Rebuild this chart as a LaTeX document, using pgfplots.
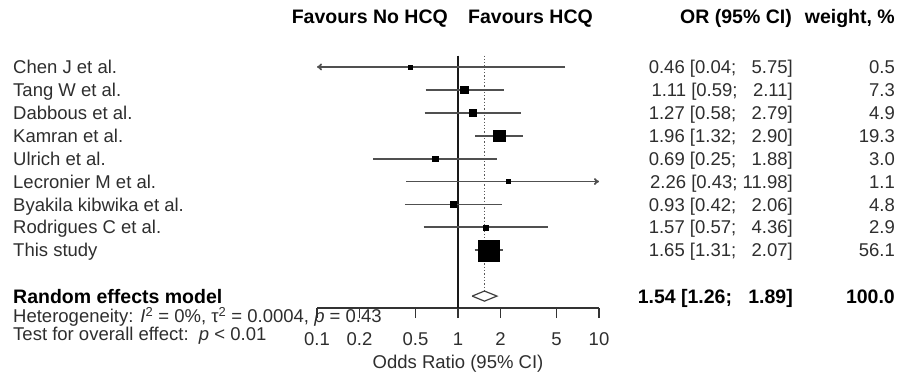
\documentclass[border=0pt]{standalone}
\usepackage{fontspec}
\setmainfont{Liberation Sans}
\usepackage{pgfplots}
\pgfplotsset{compat=1.18}
\usetikzlibrary{arrows.meta}
\newcommand\fs{\fontsize{18.5}{22}\selectfont}
\newcommand\fb{\fontsize{19.5}{22}\selectfont\bfseries}
\definecolor{txt}{HTML}{2E2E2E}
\definecolor{cicol}{HTML}{505050}
\begin{document}
\begin{tikzpicture}
\useasboundingbox (0,0) rectangle (901pt,376pt);
\begin{axis}[
  at={(317pt,68pt)}, anchor=south west,
  scale only axis, width=282pt, height=252.5pt,
  xmode=log, log basis x=10, xmin=0.1, xmax=10,
  ymin=-11.52, ymax=-0.5,
  axis x line=bottom, axis y line=none, ytick=\empty,
  axis line style={-, line width=1.3pt, black!80},
  xtick={0.1,0.2,0.5,1,2,5,10},
  xticklabels={\mbox{0.1},\mbox{0.2},\mbox{0.5},\mbox{1},\mbox{2},\mbox{5},\mbox{10}},
  minor xtick={},
  xtick align=outside, major tick length=10pt,
  tick style={line width=1.3pt, black!80},
  xticklabel style={font=\fs, text=txt, yshift=-11pt},
  xlabel={Odds Ratio (95\% CI)},
  xlabel style={font=\fs, text=txt, yshift=-3pt},
  clip=false,
  /pgf/number format/assume math mode=true,
]
% line of no effect and pooled estimate
\addplot[black!90, line width=1.4pt] coordinates {(1,-0.5) (1,-11.52)};
\addplot[black!65, dotted, line width=1.3pt] coordinates {(1.54,-0.5) (1.54,-10.78)};
% confidence intervals
\addplot[color=cicol, line width=1.8pt, -{To[length=5pt,width=7pt]}] coordinates {(5.75,-1) (0.1,-1)};
\addplot[color=cicol, line width=1.8pt] coordinates {(0.59,-2) (2.11,-2)};
\addplot[color=cicol, line width=1.8pt] coordinates {(0.58,-3) (2.79,-3)};
\addplot[color=cicol, line width=1.8pt] coordinates {(1.32,-4) (2.90,-4)};
\addplot[color=cicol, line width=1.8pt] coordinates {(0.25,-5) (1.88,-5)};
\addplot[color=cicol, line width=1.8pt, -{To[length=5pt,width=7pt]}] coordinates {(0.43,-6) (10,-6)};
\addplot[color=cicol, line width=1.8pt] coordinates {(0.42,-7) (2.06,-7)};
\addplot[color=cicol, line width=1.8pt] coordinates {(0.57,-8) (4.36,-8)};
\addplot[color=cicol, line width=1.8pt] coordinates {(1.31,-9) (2.07,-9)};
% point estimates (square area ~ weight)
\addplot[only marks, mark=square*, mark size=2pt, black] coordinates {(0.46,-1)};
\addplot[only marks, mark=square*, mark size=3.8pt, black] coordinates {(1.11,-2)};
\addplot[only marks, mark=square*, mark size=3.1pt, black] coordinates {(1.27,-3)};
\addplot[only marks, mark=square*, mark size=5.8pt, black] coordinates {(1.96,-4)};
\addplot[only marks, mark=square*, mark size=2.6pt, black] coordinates {(0.69,-5)};
\addplot[only marks, mark=square*, mark size=1.9pt, black] coordinates {(2.26,-6)};
\addplot[only marks, mark=square*, mark size=3.05pt, black] coordinates {(0.93,-7)};
\addplot[only marks, mark=square*, mark size=2.5pt, black] coordinates {(1.57,-8)};
\addplot[only marks, mark=square*, mark size=10.5pt, black] coordinates {(1.65,-9)};
% random effects diamond
\addplot[draw=black!75, fill=white, line width=1.2pt] coordinates {(1.26,-11) (1.54,-10.78) (1.89,-11) (1.54,-11.22) (1.26,-11)};
\end{axis}
% headers
\tikzset{every node/.append style={inner sep=0pt}}
\node[anchor=base east, font=\fb] at (448pt,353pt) {Favours No HCQ};
\node[anchor=base west, font=\fb] at (468pt,353pt) {Favours HCQ};
\node[anchor=base east, font=\fb] at (792pt,353pt) {OR (95\% CI)};
\node[anchor=base east, font=\fb] at (895pt,353pt) {weight, \%};
\begin{scope}[x=1pt, y=-22.9pt, shift={(0pt,331.9pt)}]
\tikzset{nm/.style={anchor=base west, font=\fs, text=txt, yshift=-6.6pt},
         orc/.style={anchor=base east, font=\fs, text=txt, yshift=-6.6pt}}
\node[nm] at (13,1) {Chen J et al.};
\node[nm] at (13,2) {Tang W et al.};
\node[nm] at (13,3) {Dabbous et al.};
\node[nm] at (13,4) {Kamran et al.};
\node[nm] at (13,5) {Ulrich et al.};
\node[nm] at (13,6) {Lecronier M et al.};
\node[nm] at (13,7) {Byakila kibwika et al.};
\node[nm] at (13,8) {Rodrigues C et al.};
\node[nm] at (13,9) {This study};
\node[orc] at (793,1) {0.46 [0.04; \hphantom{0}5.75]};
\node[orc] at (793,2) {1.11 [0.59; \hphantom{0}2.11]};
\node[orc] at (793,3) {1.27 [0.58; \hphantom{0}2.79]};
\node[orc] at (793,4) {1.96 [1.32; \hphantom{0}2.90]};
\node[orc] at (793,5) {0.69 [0.25; \hphantom{0}1.88]};
\node[orc] at (793,6) {2.26 [0.43; 11.98]};
\node[orc] at (793,7) {0.93 [0.42; \hphantom{0}2.06]};
\node[orc] at (793,8) {1.57 [0.57; \hphantom{0}4.36]};
\node[orc] at (793,9) {1.65 [1.31; \hphantom{0}2.07]};
\node[orc] at (895,1) {0.5};
\node[orc] at (895,2) {7.3};
\node[orc] at (895,3) {4.9};
\node[orc] at (895,4) {19.3};
\node[orc] at (895,5) {3.0};
\node[orc] at (895,6) {1.1};
\node[orc] at (895,7) {4.8};
\node[orc] at (895,8) {2.9};
\node[orc] at (895,9) {56.1};
\node[anchor=base west, font=\fb, yshift=-7pt] at (13,11) {Random effects model};
\node[anchor=base east, font=\fb, yshift=-7pt] at (793,11) {1.54 [1.26; \hphantom{0}1.89]};
\node[anchor=base east, font=\fb, yshift=-7pt] at (895,11) {100.0};
\end{scope}
\node[anchor=base west, font=\fs, text=txt] at (13pt,53.4pt) {Heterogeneity: \textit{I}\textsuperscript{2} = 0\%, τ\textsuperscript{2} = 0.0004, \textit{p} = 0.43};
\node[anchor=base west, font=\fs, text=txt] at (13pt,35.4pt) {Test for overall effect:\ \ \textit{p} < 0.01};
\end{tikzpicture}
\end{document}
